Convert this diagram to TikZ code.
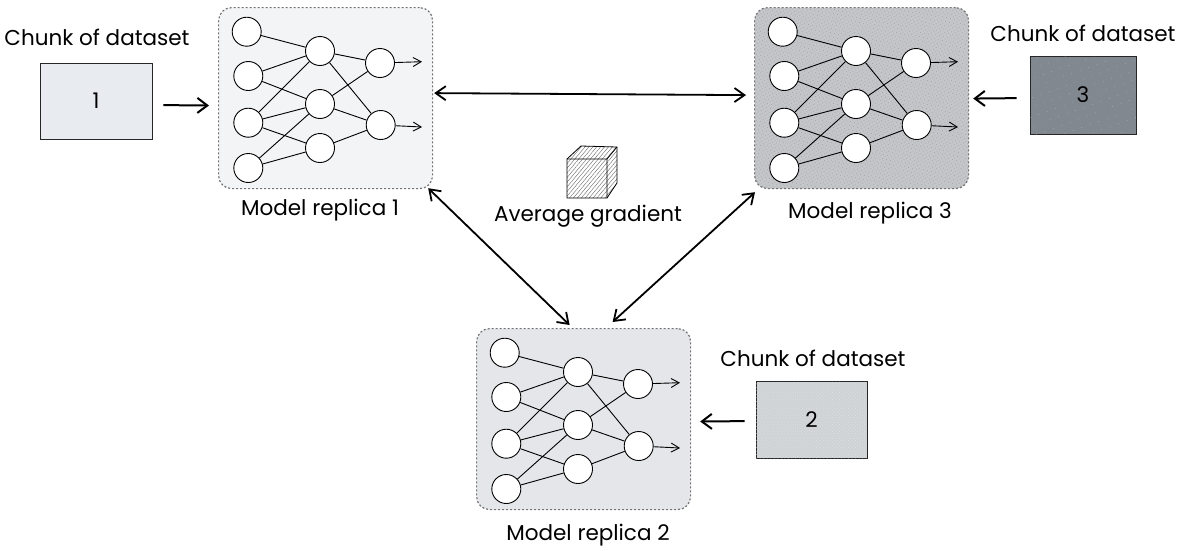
\documentclass[tikz,border=0pt]{standalone}
\usepackage{fontspec}
\setmainfont{Poppins}
\usetikzlibrary{arrows.meta,patterns.meta}
\definecolor{repA}{HTML}{F3F4F6}
\definecolor{repB}{HTML}{E4E6E9}
\definecolor{repC}{HTML}{C3C5C9}
\definecolor{chunkA}{HTML}{E8ECF0}
\definecolor{chunkB}{HTML}{CFD3D6}
\definecolor{chunkC}{HTML}{828890}
\tikzset{
  neuron/.style={circle,draw=black,fill=white,line width=0.9pt,minimum size=29pt,inner sep=0pt},
  link/.style={line width=0.9pt,black},
  repbox/.style={draw=black!55,dash pattern=on 2pt off 2pt,line width=1.2pt,rounded corners=13pt,
    minimum width=214pt,minimum height=181pt,inner sep=0pt,anchor=north west},
  speckle/.style={postaction={pattern={Dots[radius=0.35pt,distance=3pt,angle=30]},pattern color=black!45}},
  paleSpeckle/.style={postaction={pattern={Dots[radius=0.3pt,distance=9pt,angle=20]},pattern color=white!60!chunkC}},
  fineSpeckle/.style={postaction={pattern={Dots[radius=0.35pt,distance=2.5pt,angle=45]},pattern color=white!60!chunkB}},
  chunkbox/.style={draw=black!85,line width=0.9pt,inner sep=0pt,font=\fontsize{21.5}{26}\selectfont},
  lab/.style={inner sep=0pt,font=\fontsize{21.5}{26}\selectfont},
  bigarrow/.style={line width=2pt,-{Straight Barb[length=10pt,width=15pt,line width=2pt]}},
  twoway/.style={line width=1.8pt,{Straight Barb[length=10pt,width=14pt,line width=1.8pt]}-{Straight Barb[length=10pt,width=14pt,line width=1.8pt]}},
  pics/replica/.style={code={
    \node[repbox,#1] (box) at (0,0) {};
    \node[neuron] (a1) at (28.7,24.7) {};
    \node[neuron] (a2) at (30.3,69) {};
    \node[neuron] (a3) at (30.3,115.7) {};
    \node[neuron] (a4) at (30.3,161) {};
    \node[neuron] (m1) at (102,44) {};
    \node[neuron] (m2) at (102,97) {};
    \node[neuron] (m3) at (102,141) {};
    \node[neuron] (o1) at (162,56) {};
    \node[neuron] (o2) at (162.7,118) {};
    \coordinate (e1) at (204,54.7);
    \coordinate (e2) at (204,120);
    \foreach \s/\t in {a1/m1,a2/m1,a2/m2,a3/m1,a3/m2,a3/m3,a4/m2,a4/m3,m1/o1,m1/o2,m2/o1,m2/o2,m3/o2} {
      \draw[link] (\s) -- (\t);
    }
    \foreach \n in {1,2} {
      \draw[link,-{Straight Barb[length=8pt,width=9pt]}] (o\n) -- (e\n);
    }
  }}
}
\begin{document}
\begin{tikzpicture}[x=1pt,y=-1pt]
\useasboundingbox (0,0) rectangle (1178,550);
% replicas
\pic (r1) at (218,7) {replica={fill=repA}};
\pic (r3) at (754,7) {replica={fill=repC,speckle}};
\pic (r2) at (476,328) {replica={fill=repB}};
% chunks
\node[chunkbox,fill=chunkA,minimum width=112pt,minimum height=76pt] (c1) at (96,101) {1};
\node[chunkbox,fill=chunkC,paleSpeckle,minimum width=106pt,minimum height=78pt] (c3) at (1083,95) {3};
\node[chunkbox,fill=chunkB,fineSpeckle,minimum width=111pt,minimum height=77pt] (c2) at (811.5,419.5) {2};
% labels
\node[lab] (t1) at (97,37) {Chunk of dataset};
\node[lab] (t3) at (1083,33) {Chunk of dataset};
\node[lab] (t2) at (813,358) {Chunk of dataset};
\node[lab] (n1) at (320,210) {Model replica 1};
\node[lab] (n3) at (870,213) {Model replica 3};
\node[lab] (n2) at (588,535) {Model replica 2};
\node[lab] (avg) at (588,216) {Average gradient};
% cube
\draw[line width=0.8pt,pattern={Lines[angle=50,distance=3pt,line width=0.4pt]},pattern color=black!60]
  (567,159) -- (581,146) -- (617,147) -- (617,183) -- (607,198) -- (567,198) -- cycle;
\draw[line width=0.8pt] (567,159) -- (607,159) -- (607,198) (607,159) -- (617,147);
% arrows
\draw[bigarrow,shorten <=11pt,shorten >=9pt] ([yshift=-4pt]c1.east) -- ([yshift=-7.5pt]r1box.west);
\draw[bigarrow,shorten <=13pt,shorten >=4pt] ([yshift=-3pt]c3.west) -- ([yshift=-0.5pt]r3box.east);
\draw[bigarrow,shorten <=11pt,shorten >=9pt] ([yshift=-1.5pt]c2.west) -- ([yshift=-2.5pt]r2box.east);
\draw[twoway] ([xshift=1pt,yshift=5pt]r1box.east) -- ([xshift=-8pt,yshift=3pt]r3box.west);
\draw[twoway] ([xshift=-5pt,yshift=1pt]r1box.south east) -- ([xshift=-14pt,yshift=3pt]r2box.north);
\draw[twoway] ([xshift=29pt,yshift=6pt]r2box.north) -- ([xshift=1pt,yshift=-3pt]r3box.south west);
\end{tikzpicture}
\end{document}
